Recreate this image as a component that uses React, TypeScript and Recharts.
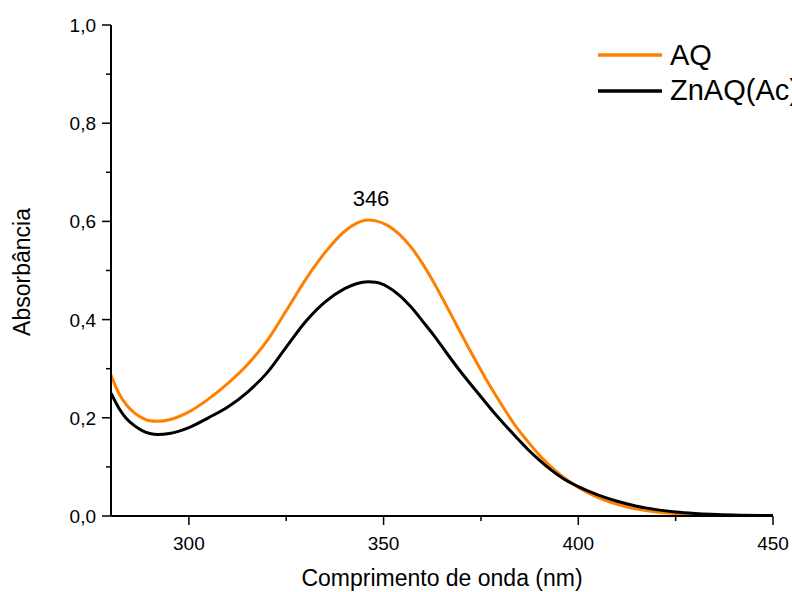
import React from 'react';
import { LineChart, Line, XAxis, YAxis, ReferenceDot } from 'recharts';

const wavelengths = [
  280, 282, 284, 286, 288, 290, 292, 295, 300, 305, 310, 315, 320, 325, 330, 335, 340, 343,
  346, 348, 351, 354, 357, 360, 363, 366, 369, 372, 375, 378, 381, 384, 387, 390, 393, 396, 400,
  405, 410, 415, 420, 425, 430, 440, 450,
];
const aq = [
  0.287, 0.25, 0.226, 0.21, 0.2, 0.194, 0.193, 0.196, 0.212, 0.238, 0.27, 0.308, 0.356, 0.418, 0.482,
  0.537, 0.58, 0.596, 0.603, 0.601, 0.592, 0.574, 0.548, 0.514, 0.474, 0.43, 0.385, 0.34, 0.297, 0.256,
  0.218, 0.182, 0.152, 0.124, 0.1, 0.08, 0.058, 0.038, 0.024, 0.014, 0.008, 0.005, 0.003, 0.001, 0.0,
];
const znaq = [
  0.25, 0.22, 0.198, 0.184, 0.174, 0.168, 0.166, 0.168, 0.18, 0.2, 0.222, 0.252, 0.291, 0.344, 0.396,
  0.436, 0.463, 0.473, 0.477, 0.476, 0.467, 0.45, 0.426, 0.397, 0.367, 0.334, 0.302, 0.272, 0.243, 0.214,
  0.187, 0.161, 0.136, 0.114, 0.094, 0.077, 0.06, 0.043, 0.03, 0.02, 0.013, 0.008, 0.005, 0.002, 0.001,
];

const xTicks = [300, 325, 350, 375, 400, 425, 450];
const xMajor = [300, 350, 400, 450];
const yTicks = [0, 0.1, 0.2, 0.3, 0.4, 0.5, 0.6, 0.7, 0.8, 0.9, 1.0];
const yMajor = [0, 0.2, 0.4, 0.6, 0.8, 1.0];

const ORANGE = '#ff8000';
const FONT = '"Liberation Sans", Arial, sans-serif';

const data = wavelengths.map((w, i) => ({ w, aq: aq[i], znaq: znaq[i] }));

const XTick = (props: any) => {
  const { x, y, payload } = props;
  const major = xMajor.includes(payload.value);
  return (
    <g>
      <line x1={x} x2={x} y1={y} y2={y + (major ? 9 : 5)} stroke="#000" strokeWidth={1.5} />
      {major && (
        <text x={x} y={y + 34} textAnchor="middle" fontSize={19} fontFamily={FONT} fill="#000">
          {payload.value}
        </text>
      )}
    </g>
  );
};

const YTick = (props: any) => {
  const { x, y, payload } = props;
  const major = yMajor.some((v) => Math.abs(v - payload.value) < 1e-6);
  return (
    <g>
      <line x1={x} x2={x - (major ? 9 : 5)} y1={y} y2={y} stroke="#000" strokeWidth={1.5} />
      {major && (
        <text x={x - 15} y={y + 7} textAnchor="end" fontSize={19} fontFamily={FONT} fill="#000">
          {payload.value.toFixed(1).replace('.', ',')}
        </text>
      )}
    </g>
  );
};

export default function App() {
  return (
    <div style={{ position: 'absolute', left: 0, top: 0, width: 792, height: 592, overflow: 'hidden', background: '#fff' }}>
      <LineChart width={792} height={592} data={data} margin={{ top: 25, right: 19, left: 0, bottom: 0 }}>
        <XAxis
          dataKey="w"
          type="number"
          domain={[280, 450]}
          ticks={xTicks}
          tickSize={0}
          tickMargin={0}
          tickLine={false}
          tick={<XTick />}
          height={76}
          axisLine={{ stroke: '#000', strokeWidth: 2 }}
          allowDataOverflow
        />
        <YAxis
          type="number"
          domain={[0, 1]}
          ticks={yTicks}
          tickSize={0}
          tickMargin={0}
          tickLine={false}
          tick={<YTick />}
          width={111}
          axisLine={{ stroke: '#000', strokeWidth: 2 }}
          allowDataOverflow
        />
        <Line type="monotone" dataKey="aq" stroke={ORANGE} strokeWidth={3} dot={false} isAnimationActive={false} />
        <Line type="monotone" dataKey="znaq" stroke="#000" strokeWidth={3} dot={false} isAnimationActive={false} />
        <ReferenceDot
          x={346}
          y={0.603}
          r={0}
          stroke="none"
          label={{ value: '346', position: 'top', offset: 14, dx: 3, fontSize: 22, fontFamily: FONT, fill: '#000' }}
        />
      </LineChart>
      <svg width={792} height={592} style={{ position: 'absolute', left: 0, top: 0, pointerEvents: 'none' }}>
        <text x={442} y={586} textAnchor="middle" fontSize={23} fontFamily={FONT} fill="#000">
          Comprimento de onda (nm)
        </text>
        <text
          x={30}
          y={272}
          textAnchor="middle"
          fontSize={23}
          fontFamily={FONT}
          fill="#000"
          transform="rotate(-90 30 272)"
        >
          Absorbância
        </text>
        <line x1={598} x2={662} y1={55} y2={55} stroke={ORANGE} strokeWidth={3.5} />
        <text x={670} y={65} fontSize={29} fontFamily={FONT} fill="#000">AQ</text>
        <line x1={598} x2={662} y1={91} y2={91} stroke="#000" strokeWidth={3.5} />
        <text x={670} y={100} fontSize={29} fontFamily={FONT} fill="#000">ZnAQ(Ac)</text>
      </svg>
    </div>
  );
}
